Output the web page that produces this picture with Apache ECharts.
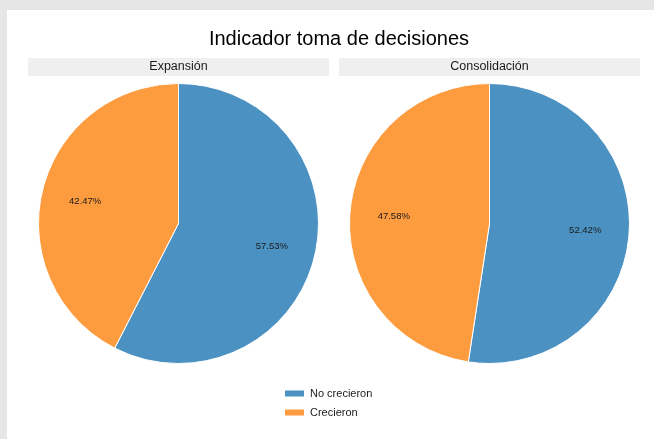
<!DOCTYPE html>
<html>
<head>
<meta charset="utf-8">
<script src="https://cdn.jsdelivr.net/npm/echarts@6/dist/echarts.min.js"></script>
<style>
  html, body { margin: 0; padding: 0; background: #fff; }
  #main { width: 654px; height: 439px; }
</style>
</head>
<body>
<div id="main"></div>
<script>
// data
const panels = ["Expansión", "Consolidación"];
const groups = ["No crecieron", "Crecieron"];
const expansion = [57.53, 42.47];
const consolidacion = [52.42, 47.58];
const colors = ["#4b91c2", "#fd9b3f"];

const chartDom = document.getElementById("main");
const myChart = echarts.init(chartDom);

const centers = [[178.5, 223.5], [489.5, 223.5]];
const values = [expansion, consolidacion];

function toData(arr) {
  return groups.map(function (g, i) {
    return { name: g, value: arr[i] };
  });
}

let series = [];
values.forEach(function (arr, k) {
  // the visible pie
  series.push({
    type: "pie",
    center: centers[k],
    radius: [0, 140],
    startAngle: 90,
    clockwise: true,
    silent: true,
    label: { show: false },
    labelLine: { show: false },
    itemStyle: { borderColor: "#fff", borderWidth: 1 },
    data: toData(arr),
  });
  // transparent ring only to place the labels further out
  series.push({
    type: "pie",
    center: centers[k],
    radius: [46, 140],
    startAngle: 90,
    clockwise: true,
    silent: true,
    legendHoverLink: false,
    itemStyle: { color: "rgba(0,0,0,0)" },
    label: {
      show: true,
      position: "inside",
      formatter: function (p) {
        return p.value.toFixed(2) + "%";
      },
      color: "#1a1a1a",
      fontSize: 9.5,
      fontFamily: "Liberation Sans",
    },
    labelLine: { show: false },
    data: toData(arr),
  });
});

let option = {
  animation: false,
  color: colors,
  title: {
    text: "Indicador toma de decisiones",
    left: 334,
    top: 24,
    textAlign: "center",
    textStyle: {
      fontFamily: "Liberation Sans",
      fontSize: 20,
      fontWeight: "normal",
      color: "#000",
    },
  },
  legend: {
    orient: "vertical",
    left: 278,
    top: 383,
    itemWidth: 21,
    itemHeight: 8,
    itemGap: 8,
    icon: "rect",
    data: groups,
    textStyle: { fontFamily: "Liberation Sans", fontSize: 11, color: "#1a1a1a" },
  },
  graphic: [
    { type: "rect", shape: { x: 0, y: 0, width: 654, height: 10 }, style: { fill: "#e6e6e6" }, silent: true },
    { type: "rect", shape: { x: 0, y: 0, width: 7, height: 439 }, style: { fill: "#e6e6e6" }, silent: true },
    { type: "rect", shape: { x: 28, y: 58, width: 301, height: 18 }, style: { fill: "#efefef" }, silent: true },
    { type: "rect", shape: { x: 339, y: 58, width: 301, height: 18 }, style: { fill: "#efefef" }, silent: true },
    {
      type: "text", x: 178.5, y: 67, silent: true,
      style: { text: panels[0], font: "12.5px 'Liberation Sans'", fill: "#1a1a1a", textAlign: "center", textVerticalAlign: "middle" },
    },
    {
      type: "text", x: 489.5, y: 67, silent: true,
      style: { text: panels[1], font: "12.5px 'Liberation Sans'", fill: "#1a1a1a", textAlign: "center", textVerticalAlign: "middle" },
    },
  ],
  series: series,
};

option && myChart.setOption(option);
</script>
</body>
</html>
